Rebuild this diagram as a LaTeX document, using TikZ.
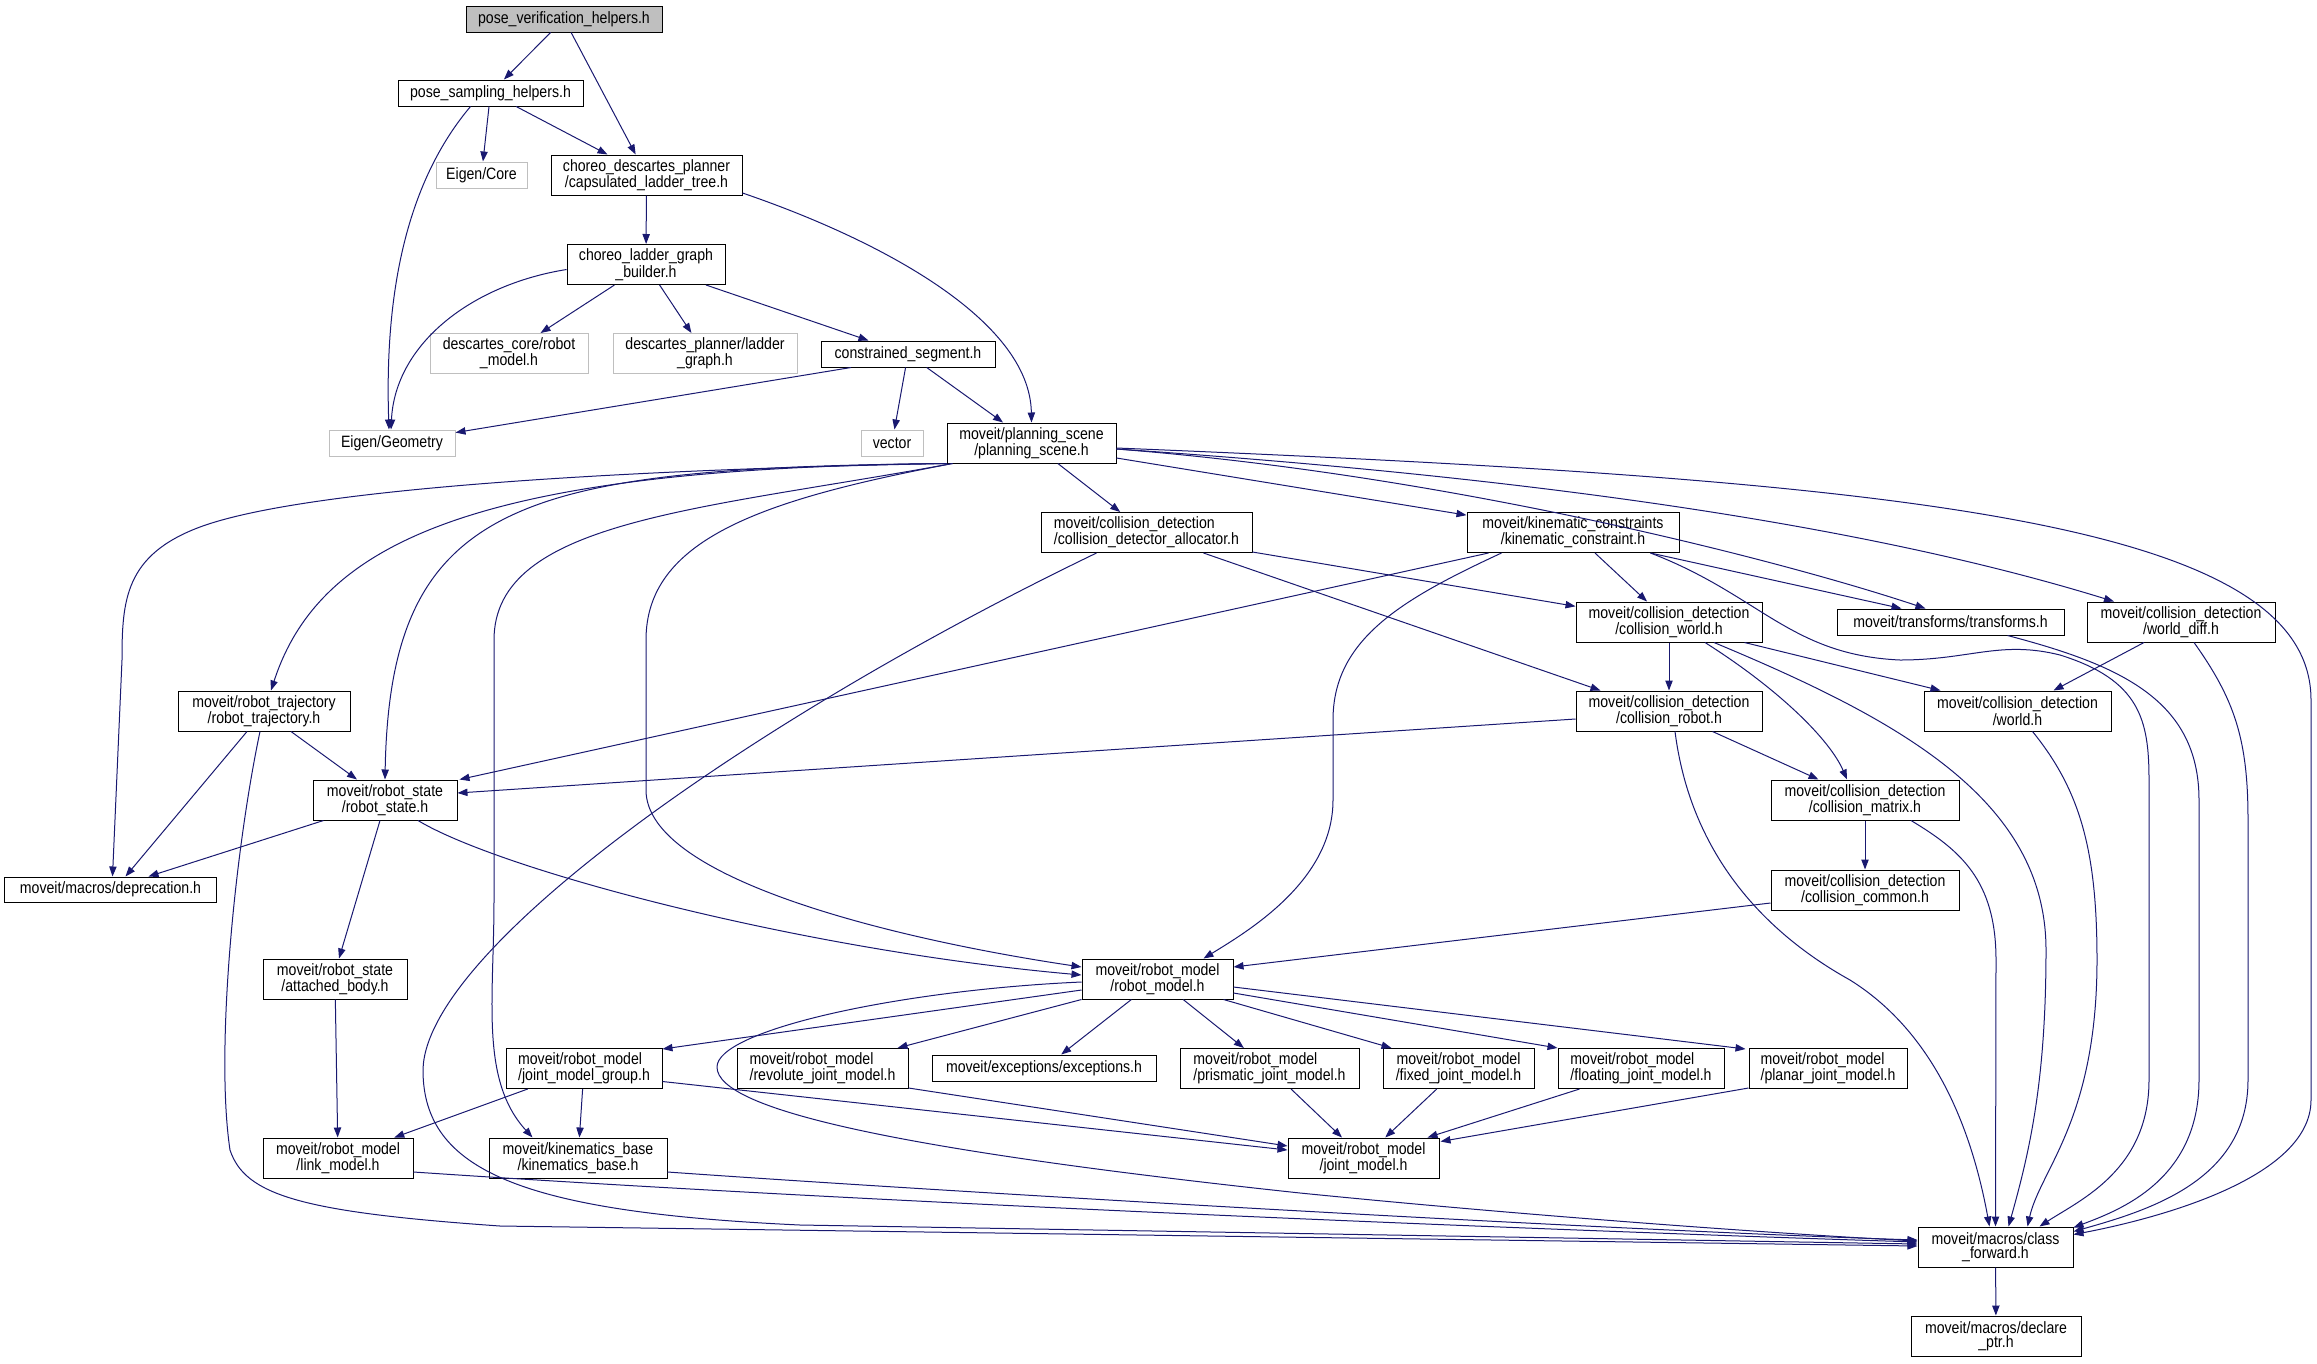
\documentclass[tikz,border=0pt]{standalone}
\usepackage{fontspec}
\usepackage{xcolor}
\usetikzlibrary{arrows.meta,calc}
\newfontfamily\graphfont[FakeStretch=0.86]{Liberation Sans}
\definecolor{edgeblue}{HTML}{191970}

\begin{document}
\begin{tikzpicture}[x=0.3mm, y=-0.3mm,
    box/.style={draw=black, line width=0.3mm, inner sep=0pt, align=center,
      minimum height=12mm, font=\graphfont\fontsize{14}{12.2}\selectfont},
    onebox/.style={box, minimum height=7.8mm},
    missing/.style={draw=gray!50},
    dep/.style={draw=edgeblue, line width=0.3mm, -{Triangle[length=3mm,width=2.2mm]}}]
  \useasboundingbox (0,0) rectangle (2317,1363);

  % Top of the graph
  \node[onebox, fill=gray!50, minimum width=58.8mm] (pvh) at (564,19) {pose\_verification\_helpers.h};
  \node[onebox, minimum width=55.5mm] (psh) at (490.5,93) {pose\_sampling\_helpers.h};
  \node[onebox, missing, minimum width=27.3mm] (ecore) at (481.5,175) {Eigen/Core};
  \node[box, minimum width=57.3mm] (cltree) at (646.5,175) {choreo\_descartes\_planner\\/capsulated\_ladder\_tree.h};
  \node[box, minimum width=47.4mm] (builder) at (646,264.5) {choreo\_ladder\_graph\\\_builder.h};
  \node[box, missing, minimum width=47.4mm] (dcrm) at (509,353.5) {descartes\_core/robot\\\_model.h};
  \node[box, missing, minimum width=55.2mm] (dplg) at (705,353.5) {descartes\_planner/ladder\\\_graph.h};
  \node[onebox, missing, minimum width=37.8mm] (egeo) at (392,443) {Eigen/Geometry};
  \node[onebox, minimum width=52.2mm] (cseg) at (908,354) {constrained\_segment.h};
  \node[onebox, missing, minimum width=18.6mm] (vec) at (892,443) {vector};
  \node[box, minimum width=50.7mm] (ps) at (1031.5,443) {moveit/planning\_scene\\/planning\_scene.h};

  % Collision detection
  \node[box, align=left, minimum width=63.3mm] (cda) at (1146.5,532.5) {moveit/collision\_detection\\/collision\_detector\_allocator.h};
  \node[box, minimum width=63.6mm] (kc) at (1573,532.5) {moveit/kinematic\_constraints\\/kinematic\_constraint.h};
  \node[box, minimum width=55.8mm] (cw) at (1669,622) {moveit/collision\_detection\\/collision\_world.h};
  \node[onebox, minimum width=68.1mm] (trf) at (1950.5,622) {moveit/transforms/transforms.h};
  \node[box, minimum width=56.4mm] (wdiff) at (2181,622) {moveit/collision\_detection\\/world\_diff.h};
  \node[box, minimum width=55.8mm] (cr) at (1669,711) {moveit/collision\_detection\\/collision\_robot.h};
  \node[box, minimum width=56.1mm] (world) at (2017.5,711) {moveit/collision\_detection\\/world.h};
  \node[box, minimum width=56.4mm] (cmat) at (1865,800) {moveit/collision\_detection\\/collision\_matrix.h};
  \node[box, minimum width=56.4mm] (ccom) at (1865,890) {moveit/collision\_detection\\/collision\_common.h};

  % Robot state and model
  \node[box, minimum width=51.6mm] (rt) at (264,711) {moveit/robot\_trajectory\\/robot\_trajectory.h};
  \node[box, minimum width=43.2mm] (rs) at (385,800) {moveit/robot\_state\\/robot\_state.h};
  \node[onebox, minimum width=63.3mm, minimum height=7.5mm] (depr) at (110.5,889.5) {moveit/macros/deprecation.h};
  \node[box, minimum width=43.2mm] (ab) at (335,979) {moveit/robot\_state\\/attached\_body.h};
  \node[box, minimum width=45.3mm] (rm) at (1157.5,979) {moveit/robot\_model\\/robot\_model.h};
  \node[box, align=left, minimum width=46.8mm] (jmg) at (584,1068.5) {moveit/robot\_model\\/joint\_model\_group.h};
  \node[box, align=left, minimum width=51.3mm] (rev) at (822.5,1068.5) {moveit/robot\_model\\/revolute\_joint\_model.h};
  \node[onebox, minimum width=67.2mm] (exc) at (1044,1068) {moveit/exceptions/exceptions.h};
  \node[box, align=left, minimum width=53.7mm] (pri) at (1269.5,1068.5) {moveit/robot\_model\\/prismatic\_joint\_model.h};
  \node[box, minimum width=45.3mm] (fix) at (1458.5,1068.5) {moveit/robot\_model\\/fixed\_joint\_model.h};
  \node[box, align=left, minimum width=49.8mm] (flo) at (1641,1068.5) {moveit/robot\_model\\/floating\_joint\_model.h};
  \node[box, align=left, minimum width=47.4mm] (pla) at (1828,1068.5) {moveit/robot\_model\\/planar\_joint\_model.h};
  \node[box, minimum width=45mm] (lm) at (338,1158) {moveit/robot\_model\\/link\_model.h};
  \node[box, minimum width=53.4mm] (kb) at (578,1158) {moveit/kinematics\_base\\/kinematics\_base.h};
  \node[box, minimum width=45.3mm] (jm) at (1363.5,1158) {moveit/robot\_model\\/joint\_model.h};
  \node[box, minimum width=46.5mm] (cf) at (1995.5,1247) {moveit/macros/class\\\_forward.h};
  \node[box, minimum width=51mm] (dp) at (1996,1336) {moveit/macros/declare\\\_ptr.h};

  % Arrows from the top files
  \draw[dep] (pvh) -- (psh);
  \draw[dep] (pvh) -- (cltree);
  \draw[dep] ($(psh.south)+(-20,0)$) .. controls (400,190) and (385,310) .. ($(egeo.north)+(-3,0)$);
  \draw[dep] (psh) -- (ecore);
  \draw[dep] (psh) -- (cltree);
  \draw[dep] (cltree) -- (builder);
  \draw[dep] ($(cltree.east)+(0,18)$) .. controls (880,240) and (1030,320) .. (ps.north);
  \draw[dep] ($(builder.west)+(0,5)$) .. controls (470,285) and (395,345) .. ($(egeo.north)+(-1,0)$);
  \draw[dep] (builder) -- (dcrm);
  \draw[dep] (builder) -- (dplg);
  \draw[dep] (builder) -- (cseg);
  \draw[dep] ($(cseg.south)+(-57,0)$) -- (egeo);
  \draw[dep] (cseg) -- (vec);
  \draw[dep] (cseg) -- (ps);

  % Arrows from planning_scene.h
  \draw[dep] (ps) -- (cda);
  \draw[dep] ($(ps.east)+(0,15)$) -- (kc);
  \draw[dep] ($(ps.east)+(0,6)$) .. controls (1450,475) and (1780,560) .. ($(trf.north)+(-25,0)$);
  \draw[dep] ($(ps.east)+(0,6)$) .. controls (1500,475) and (1850,520) .. ($(wdiff.north)+(-67,0)$);
  \draw[dep] ($(ps.east)+(0,5)$) .. controls (1900,480) and (2311,520) .. (2311,700) -- (2311,1100)
    .. controls (2311,1180) and (2150,1220) .. ($(cf.north east)+(0,8)$);
  \draw[dep] (ps.south west) .. controls (480,468) and (320,540) .. ($(rt.north)+(7,0)$);
  \draw[dep] (ps.south west) .. controls (520,468) and (390,500) .. (rs.north);
  \draw[dep] (ps.south west) .. controls (600,470) and (300,490) .. (200,527)
    .. controls (125,555) and (122,600) .. (122,660) -- ($(depr.north)+(2,0)$);
  \draw[dep] ($(ps.south west)+(6,0)$) .. controls (700,510) and (494,520) .. (494,640) -- (494,900)
    .. controls (494,1000) and (480,1080) .. ($(kb.north west)+(44,0)$);
  \draw[dep] ($(ps.south west)+(6,0)$) .. controls (760,500) and (646,540) .. (646,640) -- (646,790)
    .. controls (646,880) and (900,940) .. ($(rm.west)+(0,-12)$);

  % Arrows of the collision headers
  \draw[dep] ($(cda.south east)+(0,-1)$) -- (cw);
  \draw[dep] ($(cda.south)+(57,0)$) -- ($(cr.north west)+(25,0)$);
  \draw[dep] ($(cda.south west)+(56,0)$) .. controls (750,720) and (425,950) .. (423,1070)
    .. controls (423,1170) and (520,1212) .. (800,1225) -- ($(cf.west)+(0,-3)$);
  \draw[dep] ($(kc.south west)+(22,0)$) -- ($(rs.north east)+(2,0)$);
  \draw[dep] ($(kc.south west)+(35,0)$) .. controls (1400,600) and (1333,640) .. (1333,720) -- (1333,800)
    .. controls (1333,880) and (1250,930) .. ($(rm.north east)+(-30,0)$);
  \draw[dep] (kc) -- (cw);
  \draw[dep] ($(kc.south east)+(-29,0)$) -- ($(trf.north west)+(65,0)$);
  \draw[dep] ($(kc.south east)+(-29,0)$) .. controls (1760,595) and (1790,655) .. (1900,660)
    .. controls (1970,660) and (2000,640) .. (2060,655)
    .. controls (2140,680) and (2149,720) .. (2149,780) -- (2149,1080)
    .. controls (2149,1170) and (2080,1200) .. ($(cf.north)+(44,0)$);
  \draw[dep] (cw) -- (cr);
  \draw[dep] ($(cw.south east)+(-18,0)$) -- ($(world.north west)+(17,0)$);
  \draw[dep] ($(cw.south)+(36,0)$) .. controls (1780,690) and (1830,740) .. ($(cmat.north)+(-18,0)$);
  \draw[dep] ($(cw.south)+(45,0)$) .. controls (1900,720) and (2046,800) .. (2046,950)
    .. controls (2046,1080) and (2030,1150) .. ($(cf.north)+(13,0)$);
  \draw[dep] ($(cr.south east)+(-50,0)$) -- ($(cmat.north west)+(48,0)$);
  \draw[dep] ($(cr.south)+(6,0)$) .. controls (1690,850) and (1760,930) .. (1850,980)
    .. controls (1930,1030) and (1970,1120) .. ($(cf.north)+(-6,0)$);
  \draw[dep] ($(cr.west)+(0,8)$) -- ($(rs.east)+(0,-7)$);
  \draw[dep] ($(world.south)+(15,0)$) .. controls (2080,790) and (2097,850) .. (2097,960)
    .. controls (2097,1120) and (2040,1170) .. ($(cf.north)+(32,0)$);
  \draw[dep] ($(wdiff.south)+(-37,0)$) -- ($(world.north)+(36,0)$);
  \draw[dep] ($(wdiff.south)+(13,0)$) .. controls (2235,700) and (2248,740) .. (2248,820) -- (2248,1080)
    .. controls (2248,1180) and (2150,1210) .. ($(cf.north east)+(0,5)$);
  \draw[dep] ($(trf.south)+(57,0)$) .. controls (2120,665) and (2199,700) .. (2199,800) -- (2199,1080)
    .. controls (2199,1180) and (2120,1210) .. ($(cf.north east)+(0,1)$);
  \draw[dep] (cmat) -- (ccom);
  \draw[dep] ($(cmat.south)+(46,0)$) .. controls (1960,850) and (1996,880) .. (1996,960) -- (cf.north);
  \draw[dep] ($(ccom.west)+(0,13)$) -- ($(rm.east)+(0,-12)$);

  % Arrows of robot state and trajectory
  \draw[dep] ($(rt.south)+(27,0)$) -- ($(rs.north)+(-28,0)$);
  \draw[dep] ($(rt.south)+(-17,0)$) -- ($(depr.north)+(15,0)$);
  \draw[dep] ($(rt.south)+(-4,0)$) .. controls (235,850) and (215,1050) .. (230,1150)
    .. controls (245,1195) and (300,1212) .. (500,1226) -- ($(cf.west)+(0,-1)$);
  \draw[dep] ($(rs.south west)+(11,0)$) -- ($(depr.north east)+(-68,0)$);
  \draw[dep] ($(rs.south)+(-5,0)$) -- ($(ab.north)+(4,0)$);
  \draw[dep] ($(rs.south)+(33,0)$) .. controls (500,870) and (800,950) .. ($(rm.west)+(0,-4)$);
  \draw[dep] (ab) -- (lm);

  % Arrows of robot_model.h
  \draw[dep] ($(rm.west)+(0,11)$) -- ($(jmg.north east)+(0,1)$);
  \draw[dep] (rm.south west) -- ($(rev.north east)+(-11,0)$);
  \draw[dep] (rm) -- (exc);
  \draw[dep] (rm) -- (pri);
  \draw[dep] ($(rm.south east)+(-10,0)$) -- ($(fix.north west)+(9,0)$);
  \draw[dep] ($(rm.east)+(0,14)$) -- (flo.north west);
  \draw[dep] ($(rm.east)+(0,8)$) -- ($(pla.north west)+(-3,1)$);
  \draw[dep] ($(rm.west)+(0,3)$) .. controls (900,990) and (717,1030) .. (717,1067)
    .. controls (717,1110) and (900,1150) .. (1300,1193)
    .. controls (1550,1218) and (1800,1235) .. ($(cf.west)+(0,-6)$);
  \draw[dep] (jmg) -- (lm);
  \draw[dep] (jmg) -- (kb);
  \draw[dep] ($(jmg.east)+(0,13)$) -- ($(jm.west)+(0,-8)$);
  \draw[dep] ($(rev.south east)+(0,-1)$) -- ($(jm.west)+(0,-12)$);
  \draw[dep] (pri) -- (jm);
  \draw[dep] (fix) -- (jm);
  \draw[dep] ($(flo.south west)+(22,0)$) -- ($(jm.north east)+(-12,0)$);
  \draw[dep] ($(pla.south west)+(0,-1)$) -- ($(jm.north east)+(1,4)$);
  \draw[dep] ($(lm.east)+(0,14)$) .. controls (900,1205) and (1600,1232) .. ($(cf.west)+(0,-5)$);
  \draw[dep] ($(kb.east)+(0,14)$) .. controls (950,1192) and (1600,1230) .. ($(cf.west)+(0,-7)$);
  \draw[dep] (cf) -- (dp);
\end{tikzpicture}
\end{document}
